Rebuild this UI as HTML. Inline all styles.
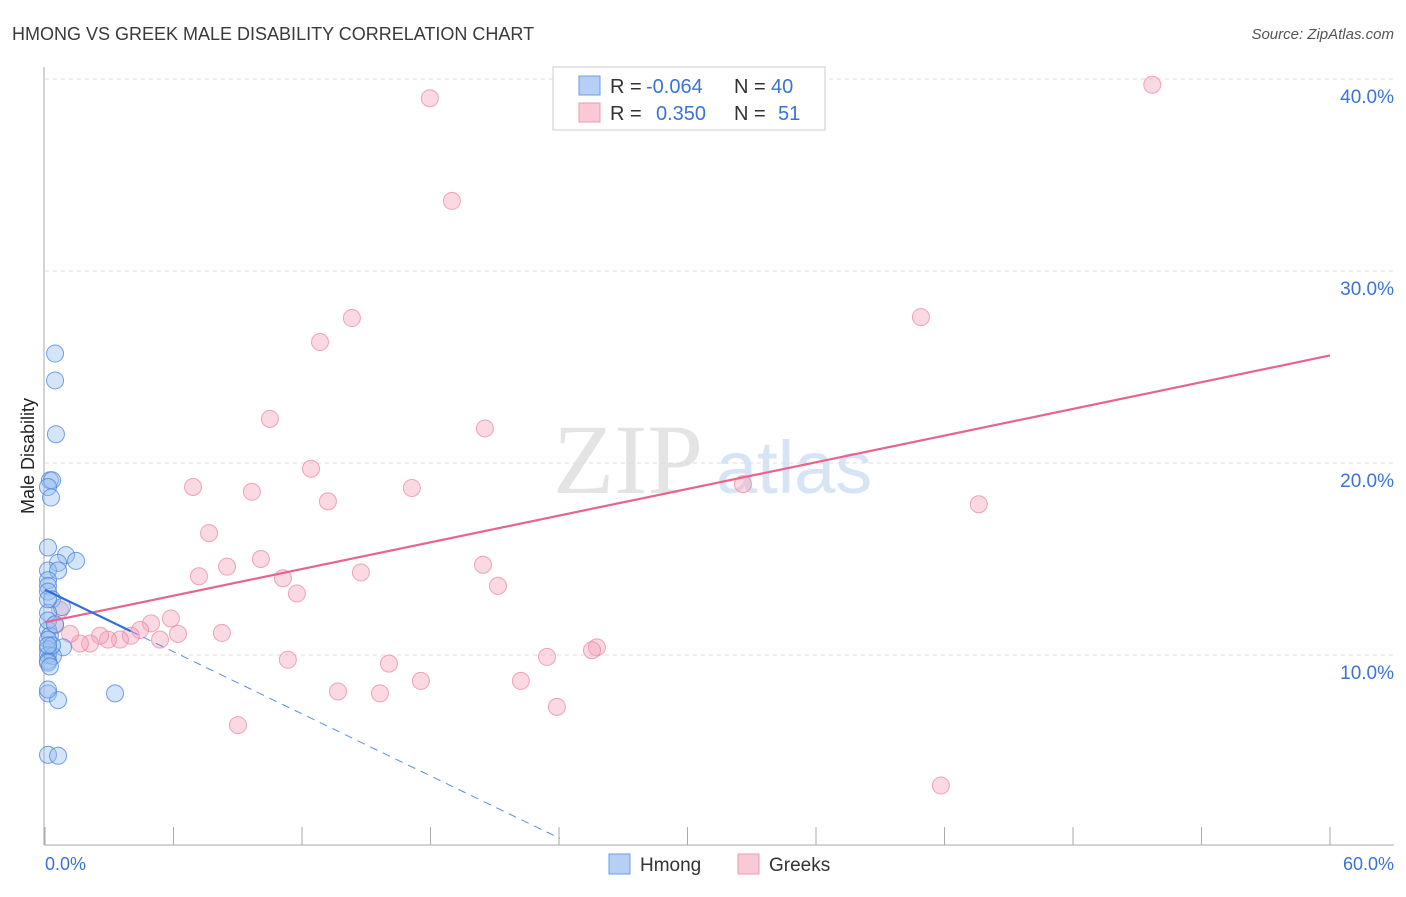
<!DOCTYPE html>
<html><head><meta charset="utf-8"><style>
body{margin:0;background:#fff;font-family:"Liberation Sans",sans-serif;}
</style></head><body>
<svg id="chart" width="1406" height="892" xmlns="http://www.w3.org/2000/svg">
<text x="12" y="40" font-size="18" fill="#3a3a3a">HMONG VS GREEK MALE DISABILITY CORRELATION CHART</text>
<text x="1394" y="39" font-size="15" fill="#555" font-style="italic" text-anchor="end">Source: ZipAtlas.com</text>
<text x="553" y="493" font-size="100" fill="#e4e4e4" font-family="Liberation Serif">ZIP</text>
<text x="716" y="493" font-size="74" fill="#d6e4f5">atlas</text>
<g id="grid"></g><g id="axes"></g><g id="marks"></g>
<text transform="translate(34,456) rotate(-90)" font-size="18" fill="#222" text-anchor="middle">Male Disability</text>
<text x="45" y="870" font-size="18" fill="#3b72d9">0.0%</text>
<text x="1394" y="870" font-size="18" fill="#3b72d9" text-anchor="end">60.0%</text>
<g>
<rect x="553" y="67" width="272" height="63" fill="#fff" stroke="#ccc"/>
<rect x="579" y="76" width="21" height="19" fill="#b6d0f5" stroke="#6a9be0"/>
<rect x="579" y="103" width="21" height="19" fill="#f9c9d6" stroke="#ec9ab2"/>
<text x="610" y="93" font-size="20" fill="#333">R = </text><text x="646" y="93" font-size="20" fill="#3b72d9">-0.064</text>
<text x="734" y="93" font-size="20" fill="#333">N = </text><text x="771" y="93" font-size="20" fill="#3b72d9">40</text>
<text x="610" y="120" font-size="20" fill="#333">R = </text><text x="656" y="120" font-size="20" fill="#3b72d9">0.350</text>
<text x="734" y="120" font-size="20" fill="#333">N = </text><text x="778" y="120" font-size="20" fill="#3b72d9">51</text>
</g>
<g>
<rect x="609" y="854" width="21" height="20" fill="#b6d0f5" stroke="#6a9be0"/>
<text x="640" y="871" font-size="19" fill="#333">Hmong</text>
<rect x="738" y="854" width="21" height="20" fill="#f9c9d6" stroke="#ec9ab2"/>
<text x="769" y="871" font-size="19" fill="#333">Greeks</text>
</g>
</svg>
<script>
const yTicks=[10,20,30,40];
const yTickLabels=["10.0%","20.0%","30.0%","40.0%"];
const xTicks=[0,6,12,18,24,30,36,42,48,54,60];
const hmongX=[0.47,0.47,0.51,0.23,0.33,0.14,0.28,0.14,0.98,0.61,1.45,0.14,0.61,0.14,0.14,0.14,0.33,0.79,0.14,0.14,0.23,0.14,0.84,0.14,0.14,0.37,0.14,0.14,3.27,0.14,0.61,0.14,0.61,0.14,0.14,0.47,0.33,0.14,0.23,0.14];
const hmongY=[25.7,24.3,21.5,19.1,19.1,18.75,18.2,15.6,15.2,14.8,14.9,14.4,14.4,13.9,13.6,13.3,12.9,12.5,12.2,11.3,11.0,10.8,10.4,10.3,10.0,9.95,9.7,9.6,8.0,8.0,7.65,4.8,4.75,12.9,11.8,11.6,10.5,10.5,9.4,8.2];
const greekX=[17.97,51.7,19.0,14.33,40.9,12.84,10.5,20.54,12.42,6.91,9.66,17.13,13.21,32.59,43.6,7.66,10.08,8.5,7.19,11.11,20.45,14.75,21.15,11.76,5.88,4.95,4.44,6.21,5.37,4.01,3.5,2.94,2.57,2.1,1.63,1.17,0.7,0.47,8.26,11.34,16.06,23.44,25.77,25.54,13.68,15.64,17.55,22.22,23.9,9.01,41.83];
const greekY=[39.0,39.7,33.65,27.55,27.6,26.3,22.3,21.8,19.7,18.75,18.5,18.7,18.0,18.9,17.85,16.35,15.0,14.6,14.1,14.0,14.7,14.3,13.6,13.2,11.9,11.65,11.3,11.1,10.8,11.0,10.8,10.8,11.0,10.6,10.6,11.1,12.35,11.55,11.15,9.75,9.55,9.9,10.4,10.25,8.1,8.0,8.65,8.65,7.3,6.35,3.2];
const pinkTrend=[11.7,25.6];
const blueTrend=[13.4,0.45];
const blueSolidEnd=4;
const NS="http://www.w3.org/2000/svg";
const X=v=>45+v*1285/60;
const Y=v=>847-v*19.2;
function mk(parent,tag,attrs){const e=document.createElementNS(NS,tag);for(const k in attrs)e.setAttribute(k,attrs[k]);document.getElementById(parent).appendChild(e);return e;}
yTicks.forEach((t,i)=>{
 const l=mk('grid','line',{x1:45,x2:1394,y1:Y(t),y2:Y(t),stroke:'#ddd','stroke-dasharray':'4,4'});
 
 
 const tx=mk('grid','text',{x:1394,y:Y(t)+24,'font-size':19,fill:'#3b72d9','text-anchor':'end'});
 tx.textContent=yTickLabels[i];
 
 
});
const ax=mk('axes','line',{x1:44,x2:44,y1:67,y2:845,stroke:'#aaa'});


const bx=mk('axes','line',{x1:44,x2:1394,y1:845,y2:845,stroke:'#aaa'});


xTicks.forEach(t=>{
 const l=mk('axes','line',{x1:X(t),x2:X(t),y1:827,y2:845,stroke:'#aaa'});
 
 
});
greekX.forEach((x,i)=>{
 const c=mk('marks','circle',{cx:X(x),cy:Y(greekY[i]),r:8.5,fill:'rgba(244,160,186,0.4)',stroke:'rgba(232,130,160,0.7)','stroke-width':1});
 
 
});
hmongX.forEach((x,i)=>{
 const c=mk('marks','circle',{cx:X(x),cy:Y(hmongY[i]),r:8.5,fill:'rgba(150,190,240,0.4)',stroke:'rgba(70,130,220,0.75)','stroke-width':1});
 
 
});
const pt=mk('marks','line',{x1:X(0),y1:Y(pinkTrend[0]),x2:X(60),y2:Y(pinkTrend[1]),stroke:'#e8648f','stroke-width':2.2});


const slope=(blueTrend[1]-blueTrend[0])/24.04;
const bs=mk('marks','line',{x1:X(0),y1:Y(blueTrend[0]),x2:X(blueSolidEnd),y2:Y(blueTrend[0]+slope*blueSolidEnd),stroke:'#2e6fd6','stroke-width':2.2});


const bd=mk('marks','line',{x1:X(blueSolidEnd),y1:Y(blueTrend[0]+slope*blueSolidEnd),x2:X(24.04),y2:Y(blueTrend[1]),stroke:'#5a8fe0','stroke-width':1,'stroke-dasharray':'8,6'});


</script>
</body></html>
